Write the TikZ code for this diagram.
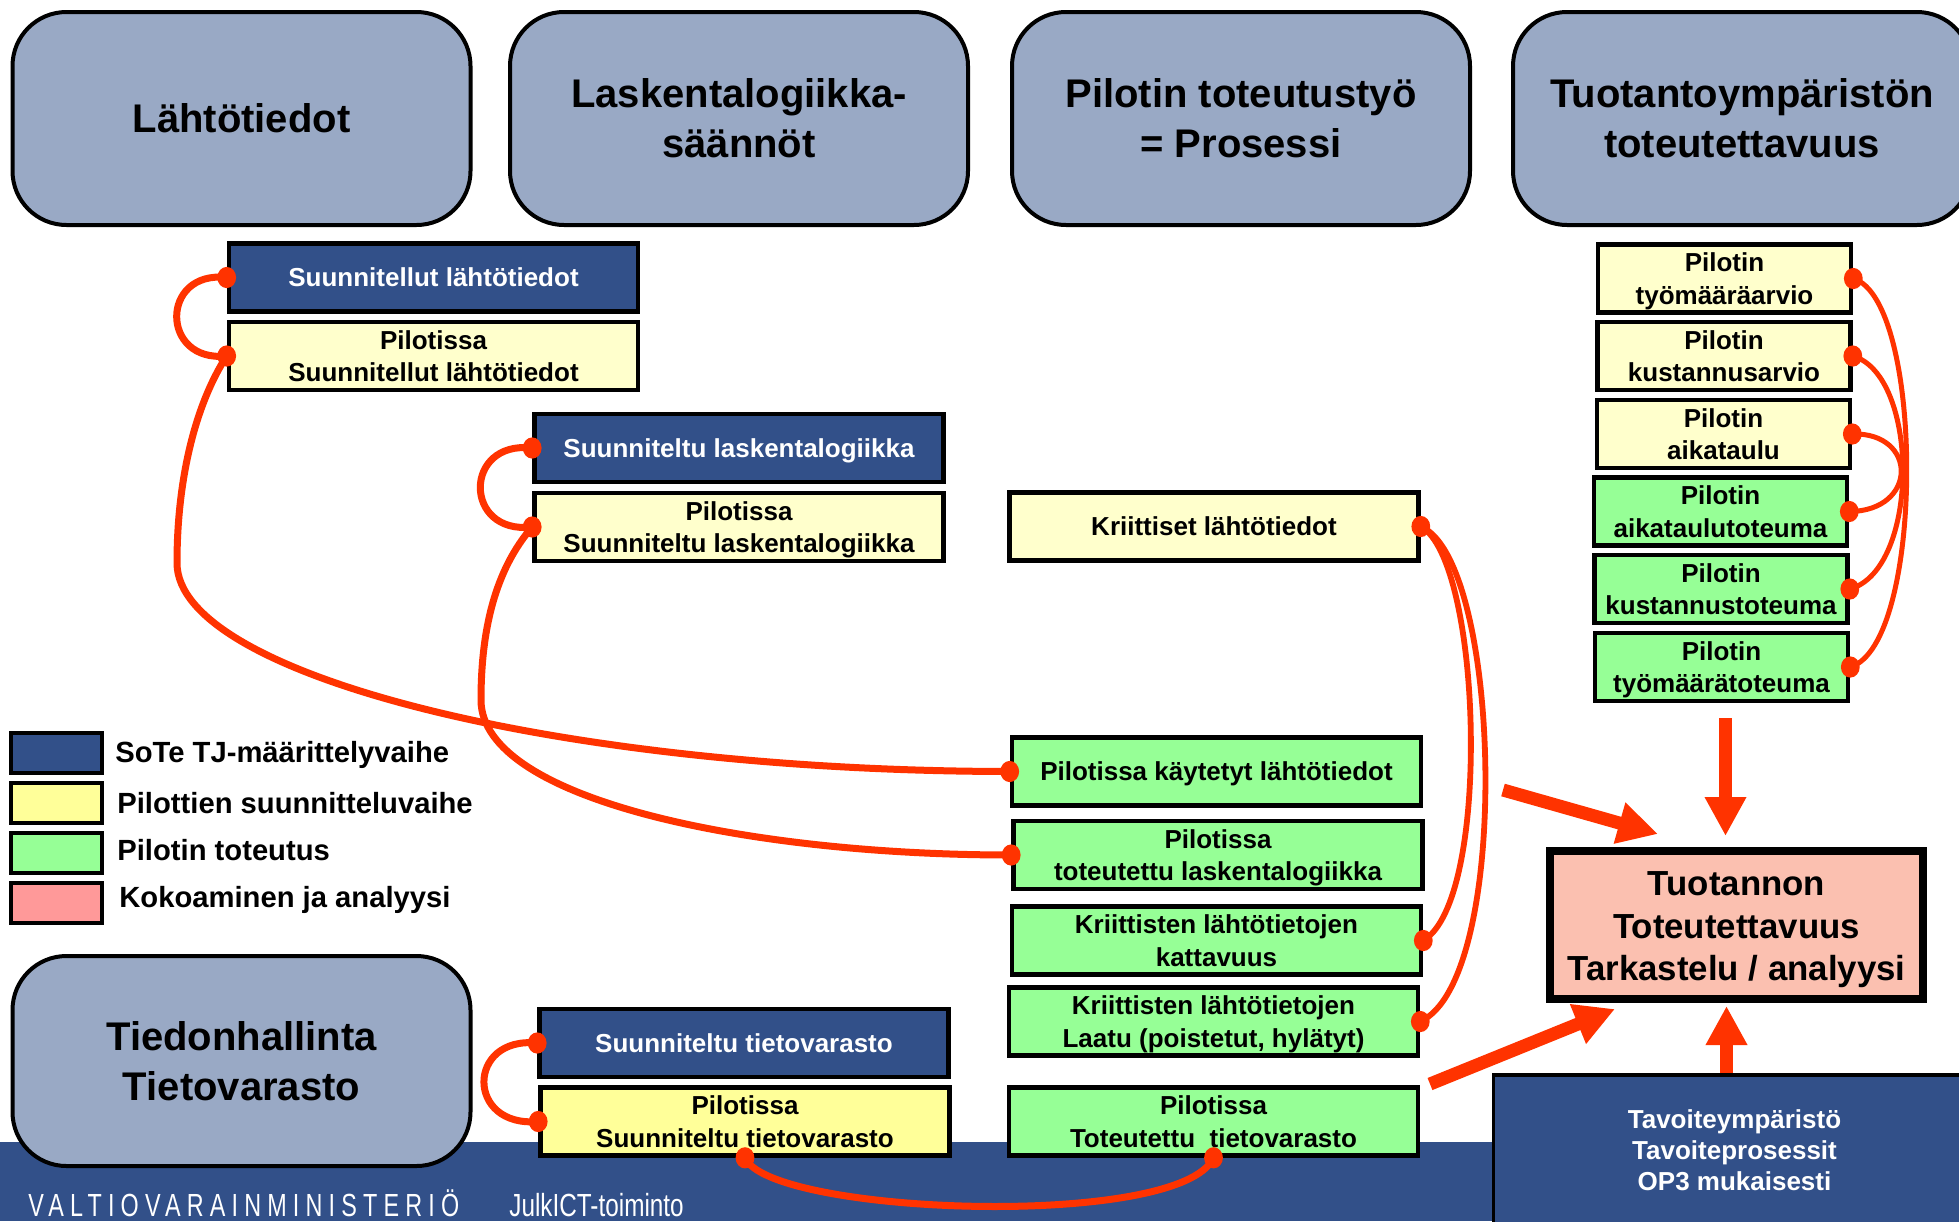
\documentclass[tikz,border=0pt]{standalone}
\usepackage{fontspec}
\setmainfont{Liberation Sans}
\newfontfamily\footfont{Liberation Sans}[FakeStretch=0.73,LetterSpace=19.3]
\newfontfamily\footfontb{Liberation Sans}[FakeStretch=0.76]
\usetikzlibrary{arrows.meta}
\definecolor{titlebg}{RGB}{153,169,197}
\definecolor{navy}{RGB}{50,80,137}
\definecolor{paleyel}{RGB}{255,255,204}
\definecolor{brightyel}{RGB}{255,255,153}
\definecolor{lgreen}{RGB}{150,255,150}
\definecolor{pinkleg}{RGB}{255,153,153}
\definecolor{salmon}{RGB}{251,192,176}
\definecolor{conred}{RGB}{255,51,0}
\tikzset{
  titlebox/.style={draw=black, line width=2pt, rounded corners=27pt, fill=titlebg,
    minimum width=229pt, minimum height=106.5pt, align=center, inner sep=0pt,
    font=\bfseries\fontsize{20}{25}\selectfont},
  stepbox/.style={draw=black, line width=2.3pt, minimum width=204.5pt, minimum height=34pt,
    align=center, inner sep=0pt, text depth=0pt, font=\bfseries\fontsize{13}{16.25}\selectfont},
  navybox/.style={stepbox, fill=navy, text=white},
  planbox/.style={stepbox, fill=paleyel},
  brightbox/.style={stepbox, fill=brightyel},
  implbox/.style={stepbox, fill=lgreen},
  colbox/.style={minimum width=126.5pt},
  legbox/.style={draw=black, line width=2.3pt, minimum width=45.5pt, minimum height=20pt, inner sep=0pt},
  legtext/.style={anchor=west, inner sep=0pt, font=\bfseries\fontsize{14.6}{17}\selectfont},
  link/.style={draw=conred, line width=3.5pt},
  linkpair/.style={draw=conred, line width=2.9pt},
  linkthin/.style={draw=conred, line width=2.5pt},
  bigarrow/.style={draw=conred, line width=6.5pt, -{Triangle[length=20pt,width=20pt]}},
  medarrow/.style={draw=conred, line width=6.5pt, -{Triangle[length=19.5pt,width=19.5pt]}},
}
\begin{document}
\begin{tikzpicture}[x=0.5pt,y=-0.5pt]
\useasboundingbox (0,0) rectangle (1959,1221);
\fill[white] (0,0) rectangle (1959,1221);
% footer band
\fill[navy] (0,1142) rectangle (1959,1221);
\node[anchor=base west, inner sep=0pt, text=white, font=\footfont\fontsize{16}{16}\selectfont] (vm) at (28,1216) {VALTIOVARAINMINISTERIÖ};
\node[anchor=base west, inner sep=0pt, text=white, font=\footfontb\fontsize{16}{16}\selectfont] (jict) at (509,1216) {JulkICT-toiminto};

% title boxes
\node[titlebox] (t1) at (241.5,118.5) {Lähtötiedot};
\node[titlebox] (t2) at (739,118.5) {Laskentalogiikka-\\säännöt};
\node[titlebox] (t3) at (1241,118.5) {Pilotin toteutustyö\\= Prosessi};
\node[titlebox] (t4) at (1742,118.5) {Tuotantoympäristön\\toteutettavuus};
\node[titlebox, minimum height=105pt] (t5) at (241.5,1061) {Tiedonhallinta\\Tietovarasto};

% left/middle boxes
\node[navybox] (sl) at (433.5,277.5) {Suunnitellut lähtötiedot};
\node[planbox] (psl) at (433.5,356) {Pilotissa\\Suunnitellut lähtötiedot};
\node[navybox] (sll) at (739,448) {Suunniteltu laskentalogiikka};
\node[planbox] (psll) at (739,527) {Pilotissa\\Suunniteltu laskentalogiikka};
\node[planbox] (kl) at (1214,526.5) {Kriittiset lähtötiedot};
\node[implbox] (pkl) at (1216.5,771.5) {Pilotissa käytetyt lähtötiedot};
\node[implbox] (ptl) at (1218,855) {Pilotissa\\toteutettu laskentalogiikka};
\node[implbox] (kk) at (1216.5,940.5) {Kriittisten lähtötietojen\\kattavuus};
\node[implbox] (kla) at (1213.5,1021.5) {Kriittisten lähtötietojen\\Laatu (poistetut, hylätyt)};
\node[implbox] (ptt) at (1213.5,1121.5) {Pilotissa\\Toteutettu\ \ tietovarasto};
\node[navybox] (st) at (744,1043) {Suunniteltu tietovarasto};
\node[brightbox] (pst) at (745,1121.5) {Pilotissa\\Suunniteltu tietovarasto};

% right column
\node[planbox, colbox] (r1) at (1724.5,278.5) {Pilotin\\työmääräarvio};
\node[planbox, colbox] (r2) at (1724,356) {Pilotin\\kustannusarvio};
\node[planbox, colbox] (r3) at (1723.5,434) {Pilotin\\aikataulu};
\node[implbox, colbox] (r4) at (1720.5,511.5) {Pilotin\\aikataulutoteuma};
\node[implbox, colbox] (r5) at (1721,589) {Pilotin\\kustannustoteuma};
\node[implbox, colbox] (r6) at (1721.5,667) {Pilotin\\työmäärätoteuma};

% legend
\node[legbox, fill=navy] (lg1) at (56.5,753) {};
\node[legbox, fill=brightyel] (lg2) at (56.5,803) {};
\node[legbox, fill=lgreen] (lg3) at (56.5,853) {};
\node[legbox, fill=pinkleg] (lg4) at (56.5,903) {};
\node[legtext] (lt1) at (115,755) {SoTe TJ-määrittelyvaihe};
\node[legtext] (lt2) at (117,803) {Pilottien suunnitteluvaihe};
\node[legtext] (lt3) at (117,850) {Pilotin toteutus};
\node[legtext] (lt4) at (119,900) {Kokoaminen ja analyysi};

% analysis box and target box
\node[draw=black, line width=4pt, fill=salmon, minimum width=186.5pt, minimum height=74pt,
  inner sep=0pt] (tuo) at (1736.5,925) {};
\node[align=center, inner sep=0pt, font=\bfseries\fontsize{17.4}{21.25}\selectfont] (tuotxt) at (1736.5,930)
  {Tuotannon\\Toteutettavuus\\Tarkastelu / analyysi};
\node[draw=black, line width=1.8pt, fill=navy, text=white, minimum width=241pt, minimum height=75pt,
  align=center, inner sep=0pt, font=\bfseries\fontsize{13}{15.5}\selectfont] (tav) at (1734.5,1150)
  {Tavoiteympäristö\\Tavoiteprosessit\\OP3 mukaisesti};

% thick arrows
\coordinate (a1s) at (1503,790);
\coordinate (a1e) at (1658,834);
\coordinate (a2s) at (1725.5,718);
\coordinate (a2e) at (1725.5,836);
\coordinate (a3s) at (1430,1084);
\coordinate (a3e) at (1615,1009);
\coordinate (a4s) at (1726.5,1073);
\coordinate (a4e) at (1726.5,1006);
\draw[bigarrow] (a1s) -- (a1e);
\draw[medarrow] (a2s) -- (a2e);
\draw[bigarrow] (a3s) -- (a3e);
\draw[medarrow] (a4s) -- (a4e);

% red connectors
\draw[link] (sl.west) .. controls (160,270) and (160,363) .. (psl.west);
\draw[link] (psl.west) .. controls (195,405) and (177,480) .. (177,563)
   .. controls (177,675) and (560,771) .. (pkl.west);
\draw[link] (sll.west) .. controls (463,440) and (463,535) .. (psll.west);
\draw[link] (psll.west) .. controls (495,570) and (481,630) .. (481,700)
   .. controls (481,800) and (750,855) .. (ptl.west);
\draw[linkpair] (kl.east) .. controls (1482,560) and (1492,900) .. (kk.east);
\draw[linkpair] (kl.east) .. controls (1502,560) and (1512,980) .. (kla.east);
\draw[linkthin] (r1.east) .. controls (1925,300) and (1925,645) .. (r6.east);
\draw[linkthin] (r2.east) .. controls (1920,375) and (1920,570) .. (r5.east);
\draw[linkthin] (r3.east) .. controls (1918,432) and (1918,511) .. (r4.east);
\draw[link] (st.west) .. controls (466,1036) and (466,1128) .. (pst.west);
\draw[link] (pst.south) .. controls (770,1215) and (1180,1230) .. (ptt.south);

\foreach \a in {sl.west, psl.west, pkl.west, sll.west, psll.west, ptl.west,
    kl.east, kk.east, kla.east, r1.east, r2.east, r3.east, r4.east, r5.east, r6.east,
    st.west, pst.west, pst.south, ptt.south}
  \fill[conred] (\a) circle[x radius=4.7pt, y radius=5.3pt];
\end{tikzpicture}
\end{document}
